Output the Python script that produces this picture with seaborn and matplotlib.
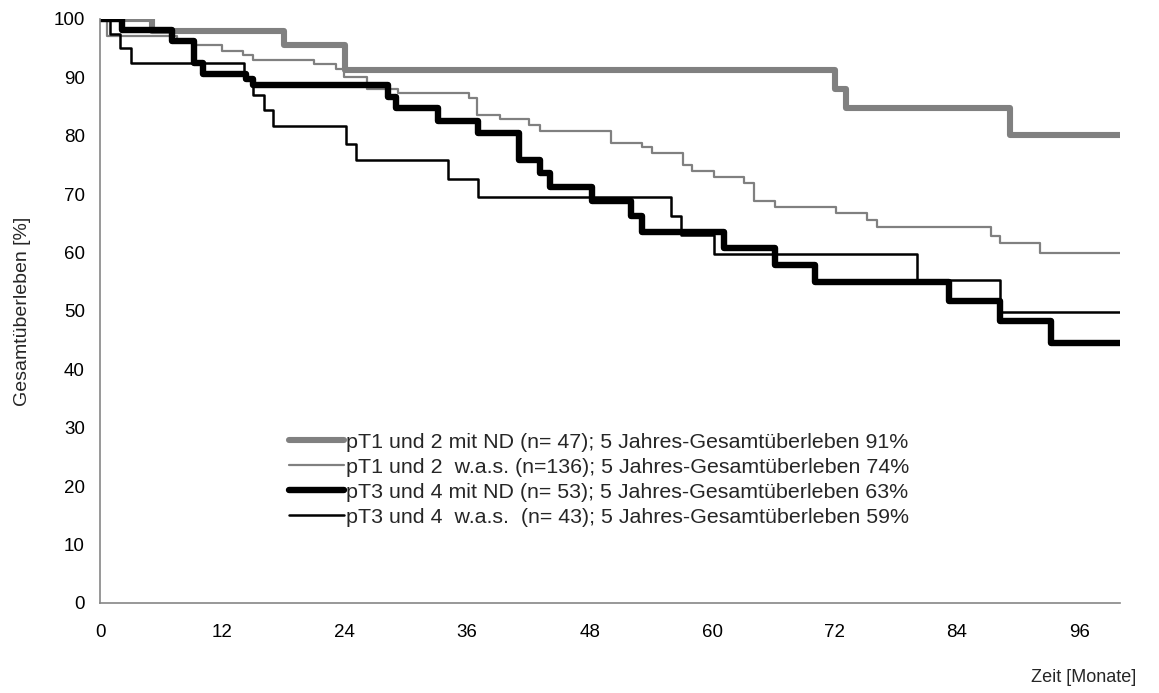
import pandas as pd
import numpy as np
import seaborn as sb
import matplotlib.pyplot as plt

# Kaplan-Meier Kurven, Werte (Monate, Überleben in %)
aMonthsT12ND = [0, 5.1, 18.0, 24.0, 72.1, 73.1, 89.2, 100]
aSurvT12ND = [100, 98.0, 95.6, 91.2, 88.0, 84.8, 80.2, 80.2]

aMonthsT12WAS = [0, 0.7, 7.5, 9.3, 12.0, 14.0, 15.0, 21.0, 23.1, 23.9, 26.2, 29.2,
                 36.2, 37.0, 39.2, 42.1, 43.1, 50.1, 53.1, 54.1, 57.2, 58.0, 60.2,
                 63.1, 64.1, 66.2, 72.2, 75.2, 76.2, 87.3, 88.2, 92.2, 100]
aSurvT12WAS = [100, 97.1, 96.3, 95.5, 94.6, 93.8, 93.0, 92.3, 91.5, 90.1, 88.0, 87.4,
               86.4, 83.6, 82.8, 81.8, 80.9, 78.8, 78.0, 77.0, 75.0, 74.0, 73.0,
               72.0, 68.9, 67.8, 66.7, 65.5, 64.3, 62.9, 61.6, 60.0, 60.0]

aMonthsT34ND = [0, 2.2, 7.1, 9.2, 10.1, 14.3, 15.0, 28.2, 29.0, 33.1, 37.1, 41.1,
                43.1, 44.1, 48.2, 52.1, 53.1, 61.2, 66.2, 70.1, 83.2, 88.2, 93.2, 100]
aSurvT34ND = [100, 98.2, 96.3, 92.5, 90.5, 89.8, 88.7, 86.6, 84.7, 82.6, 80.5, 75.9,
              73.6, 71.3, 68.8, 66.3, 63.6, 60.7, 57.9, 55.0, 51.7, 48.3, 44.5, 44.5]

aMonthsT34WAS = [0, 1.0, 2.0, 3.0, 14.1, 15.0, 16.1, 17.0, 24.1, 25.1, 34.1, 37.1,
                 56.0, 57.0, 60.2, 80.1, 88.2, 100]
aSurvT34WAS = [100, 97.5, 95.0, 92.5, 89.8, 87.0, 84.5, 81.6, 78.6, 75.9, 72.6, 69.5,
               66.3, 63.0, 59.8, 55.3, 49.8, 49.8]

aLabels = ["pT1 und 2 mit ND (n= 47); 5 Jahres-Gesamtüberleben 91%",
           "pT1 und 2  w.a.s. (n=136); 5 Jahres-Gesamtüberleben 74%",
           "pT3 und 4 mit ND (n= 53); 5 Jahres-Gesamtüberleben 63%",
           "pT3 und 4  w.a.s.  (n= 43); 5 Jahres-Gesamtüberleben 59%"]

sb.set_style("white")
plt.rcParams['font.family'] = ['Liberation Sans', 'DejaVu Sans']

fig = plt.figure(figsize=(11.59, 6.93), dpi=100, facecolor='w')
ax = fig.add_axes([0.0863, 0.1299, 0.8801, 0.8427])

aCurves = [
    (aMonthsT12ND, aSurvT12ND, "#808080", 4.4),
    (aMonthsT12WAS, aSurvT12WAS, "#808080", 1.6),
    (aMonthsT34ND, aSurvT34ND, "#000000", 4.6),
    (aMonthsT34WAS, aSurvT34WAS, "#000000", 1.8),
]
for (aX, aY, sColor, fWidth), sLabel in zip(aCurves, aLabels):
    sb.lineplot(x=aX, y=aY, ax=ax, color=sColor, linewidth=fWidth,
                drawstyle="steps-post", estimator=None, sort=False, label=sLabel)

ax.set_xlim(0, 100)
ax.set_ylim(0, 100)
ax.set_xticks(np.arange(0, 97, 12))
ax.set_yticks(np.arange(0, 101, 10))
ax.tick_params(axis="both", direction="out", length=5, width=1, color="#868686",
               labelsize=13.5, labelcolor="black", pad=6)
ax.tick_params(axis="x", pad=10)

for sSide in ["top", "right"]:
    ax.spines[sSide].set_visible(False)
for sSide in ["left", "bottom"]:
    ax.spines[sSide].set_color("#868686")
    ax.spines[sSide].set_linewidth(1.2)

ax.set_xlabel("Zeit [Monate]", fontsize=13, ha="right", va="center")
ax.xaxis.set_label_coords((1136 - 100) / 1020, -(678 - 603) / 584)
ax.set_ylabel("Gesamtüberleben [%]", fontsize=14, va="center")
ax.yaxis.set_label_coords(-(100 - 22) / 1020, (603 - 311) / 584)

oLegend = ax.legend(loc="upper left", bbox_to_anchor=((289 - 100) / 1020, (603 - 433) / 584),
                    frameon=False, fontsize=15.4, handlelength=2.55, handletextpad=0.1,
                    labelspacing=0.28, borderaxespad=0, borderpad=0)

fig.savefig("out.png", dpi=100)
